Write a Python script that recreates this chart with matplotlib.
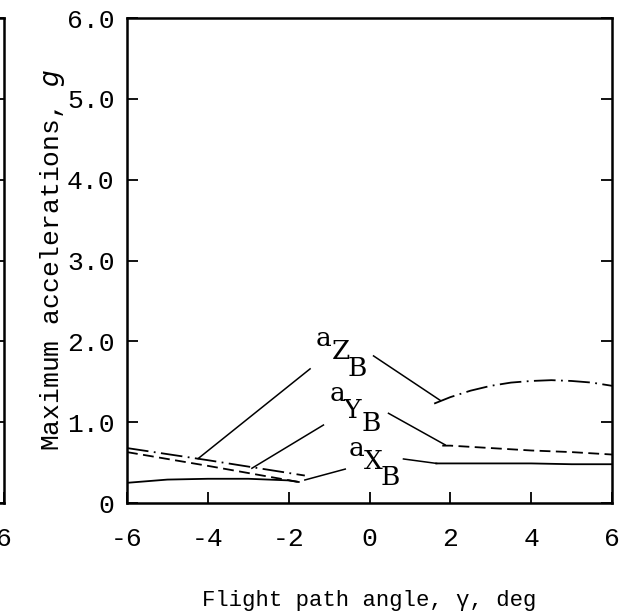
import matplotlib.pyplot as plt

plt.rcParams['font.family'] = ['Liberation Mono', 'DejaVu Sans']

# flight path angle, deg (descending and climbing branches)
gamma_desc = [-6, -5, -4, -3, -2, -1.75]
ax_desc = [0.25, 0.29, 0.30, 0.30, 0.28, 0.26]
gamma_desc_y = [-6, -4, -1.75]
ay_desc = [0.63, 0.46, 0.26]
gamma_desc_z = [-6, -4, -1.6]
az_desc = [0.68, 0.53, 0.34]

gamma_clb_x = [1.65, 2, 3, 4, 5, 6]
ax_clb = [0.49, 0.49, 0.49, 0.49, 0.48, 0.48]
gamma_clb_y = [1.8, 2, 3, 4, 5, 6]
ay_clb = [0.71, 0.71, 0.68, 0.65, 0.63, 0.60]
gamma_clb_z = [1.6, 2, 2.5, 3, 3.5, 4, 4.5, 5, 5.5, 6]
az_clb = [1.23, 1.31, 1.39, 1.45, 1.49, 1.51, 1.52, 1.51, 1.49, 1.45]

xticks = [-6, -4, -2, 0, 2, 4, 6]
yticks = [0, 1, 2, 3, 4, 5, 6]
ytick_labels = ['0', '1.0', '2.0', '3.0', '4.0', '5.0', '6.0']

fig = plt.figure(figsize=(6.35, 6.16), dpi=100)
ax = fig.add_axes([0.2, 0.1834, 0.7638, 0.7873])
# neighbouring panel, mostly off the page
ax0 = fig.add_axes([-0.7575, 0.1834, 0.7638, 0.7873])

for a in (ax, ax0):
    a.set_xlim(-6, 6)
    a.set_ylim(0, 6)
    a.set_xticks(xticks)
    a.set_yticks(yticks)
    a.tick_params(direction='in', length=8, width=1.3, top=False, right=True)
    a.tick_params(axis='x', pad=17)
    a.tick_params(axis='y', pad=9)
    for s in a.spines.values():
        s.set_linewidth(1.8)

ax.set_xticklabels([str(t) for t in xticks], fontsize=19)
ax.set_yticklabels(ytick_labels, fontsize=19)
# only the last x label of the neighbour panel reaches the page
ax0.set_xticklabels([''] * 6 + ['6'], fontsize=19)
ax0.set_yticklabels([])

lw = 1.3
ax.plot(gamma_desc, ax_desc, color='black', lw=lw)
ax.plot(gamma_clb_x, ax_clb, color='black', lw=lw)
ax.plot(gamma_desc_y, ay_desc, color='black', lw=lw, linestyle=(0, (6, 3)))
ax.plot(gamma_clb_y, ay_clb, color='black', lw=lw, linestyle=(0, (6, 3)))
ax.plot(gamma_desc_z, az_desc, color='black', lw=lw, linestyle=(0, (12, 3, 1, 3)))
ax.plot(gamma_clb_z, az_clb, color='black', lw=lw, linestyle=(0, (12, 3, 1, 3)))

# leader lines from the labels to each curve
leaders = [
    ([-4.24, -1.47], [0.55, 1.66]),
    ([0.10, 1.75], [1.82, 1.27]),
    ([-2.91, -1.14], [0.43, 0.965]),
    ([0.47, 1.87], [1.11, 0.72]),
    ([-1.6, -0.6], [0.285, 0.42]),
    ([0.84, 1.66], [0.545, 0.49]),
]
for xs, ys in leaders:
    ax.plot(xs, ys, color='black', lw=1.1)

# staircase labels a / axis letter / B
labels = [
    [('a', -1.13, 2.03), ('Z', -0.71, 1.87), ('B', -0.31, 1.67)],
    [('a', -0.80, 1.35), ('Y', -0.43, 1.15), ('B', 0.04, 0.98)],
    [('a', -0.33, 0.67), ('X', 0.09, 0.51), ('B', 0.51, 0.31)],
]
for parts in labels:
    for ch, x, y in parts:
        ax.text(x, y, ch, fontsize=19, ha='center', va='center',
                family='DejaVu Serif')

ax.set_ylabel('Maximum accelerations, $g$', fontsize=19, labelpad=0)
ax.set_xlabel('Flight path angle, \u03b3, deg', fontsize=16, labelpad=28)

fig.savefig('out.png', dpi=100)
